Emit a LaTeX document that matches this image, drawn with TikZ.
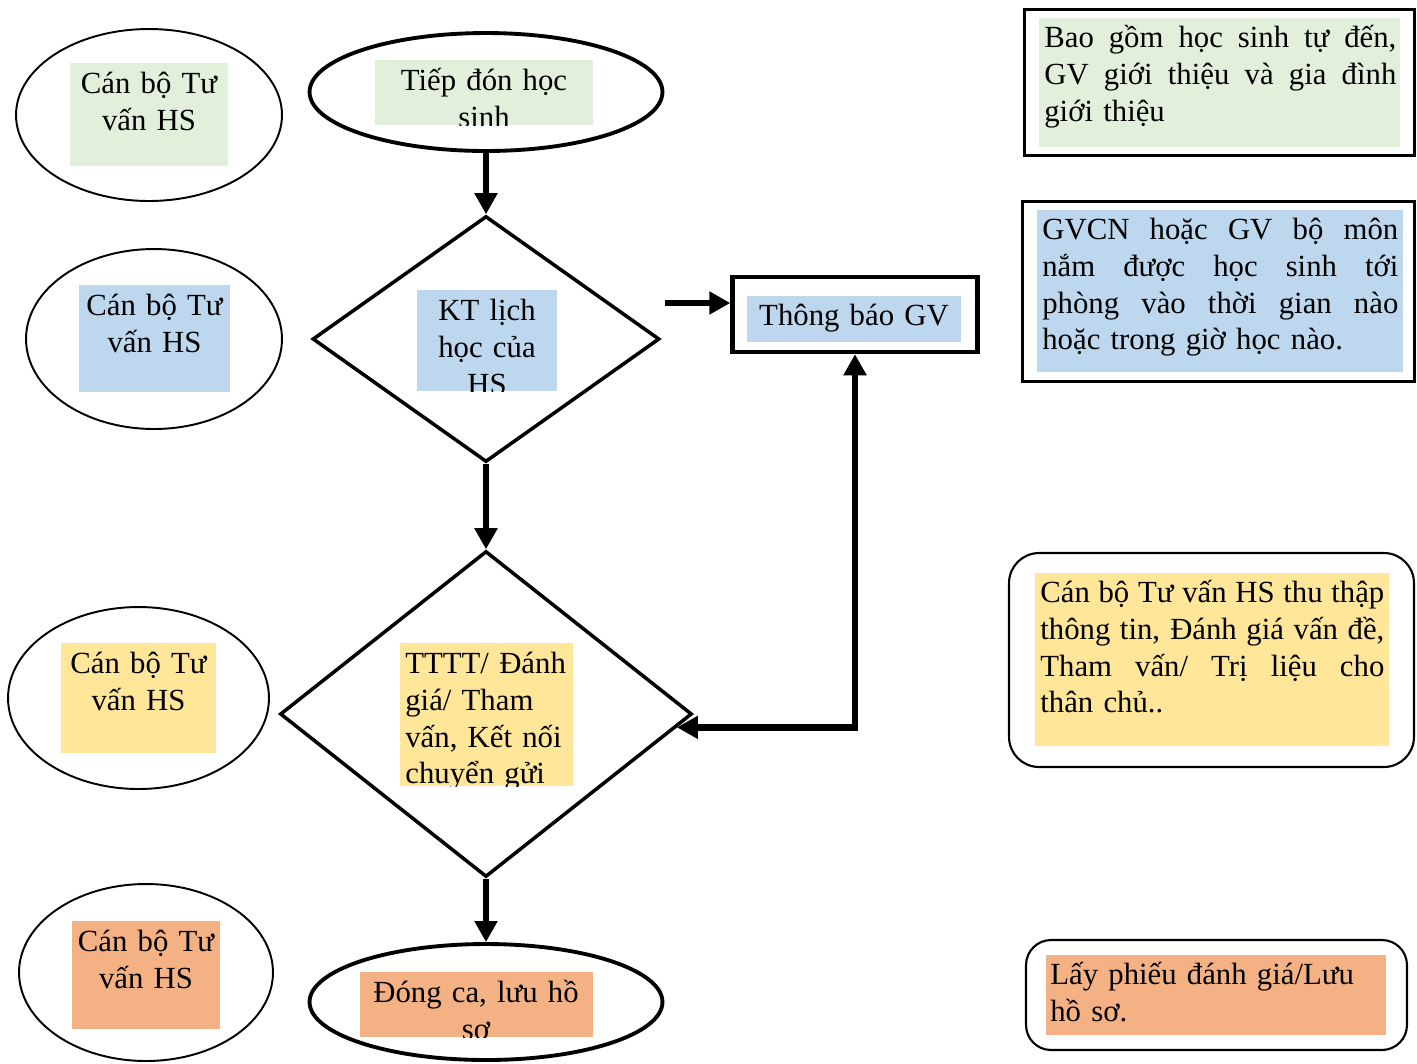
\documentclass[tikz,border=0pt]{standalone}
\usepackage{fontspec}
\setmainfont{Liberation Serif}
\usetikzlibrary{shapes.geometric,arrows.meta}

\definecolor{cgreen}{HTML}{E2EFDA}
\definecolor{cblue}{HTML}{BDD7EE}
\definecolor{cyellow}{HTML}{FFE699}
\definecolor{corange}{HTML}{F4B183}

% one drawing unit
\newlength\pxu
\setlength\pxu{0.02cm}

% a justified line of a given width (in drawing units)
\newcommand\jl[2]{{\spaceskip=0.25em plus 1fil minus 0.12em
  \leavevmode\hbox to #1\pxu{#2}}}

% shaded text frame whose text is cut off at the frame edge
% #1 name, #2 colour, #3-#6 corners, #7 node options, #8 text
\newcommand\tbox[8]{%
  \begin{scope}
    \clip (#3,#4) rectangle (#5,#6);
    \fill[#2] (#3,#4) rectangle (#5,#6);
    \node[lbl,#7] (#1) {\rule{0pt}{17pt}#8};
  \end{scope}}

\begin{document}
\begin{tikzpicture}[x=0.02cm,y=-0.02cm,
  lbl/.style={inner sep=0pt,font={\fontsize{17.5}{21}\selectfont\lineskiplimit=-100pt}},
  cen/.style={anchor=north,text width=6cm,align=center},
  lft/.style={anchor=north west,text width=9cm,align=left},
  role/.style={ellipse,draw,fill=white,line width=1.1pt,inner sep=0pt},
  term/.style={ellipse,draw,fill=white,line width=2.2pt,inner sep=0pt},
  choice/.style={diamond,draw,fill=white,line width=2pt,inner sep=0pt},
  note/.style={draw,fill=white,line width=1.6pt,inner sep=0pt},
  rnote/.style={draw,fill=white,line width=1.2pt,inner sep=0pt},
  tip/.tip={Triangle[length=12pt,width=12.5pt]},
  flow/.style={line width=3.8pt,-tip},
  both/.style={line width=3.8pt,tip-tip}]

\useasboundingbox (0,0) rectangle (1417,1063);
\fill[white] (0,0) rectangle (1417,1063);

% staff ellipses on the left
\node[role,minimum width=5.32cm,minimum height=3.44cm] (e1) at (149,115) {};
\node[role,minimum width=5.12cm,minimum height=3.6cm] (e2) at (154,339) {};
\node[role,minimum width=5.22cm,minimum height=3.64cm] (e3) at (138.5,698) {};
\node[role,minimum width=5.08cm,minimum height=3.54cm] (e4) at (146,972.5) {};

% main flow
\node[term,minimum width=7.06cm,minimum height=2.36cm] (start) at (486,92) {};
\node[choice,minimum width=6.94cm,minimum height=4.92cm] (d1) at (486,339) {};
\node[choice,minimum width=8.24cm,minimum height=6.52cm] (d2) at (486,714) {};
\node[term,minimum width=7.06cm,minimum height=2.32cm] (stop) at (486,1002) {};
\node[note,line width=2.5pt,minimum width=4.9cm,minimum height=1.5cm] (gv) at (855,314.5) {};

% notes on the right
\node[note,minimum width=7.8cm,minimum height=2.92cm] (r1) at (1219.5,82.5) {};
\node[note,minimum width=7.84cm,minimum height=3.6cm] (r2) at (1218.5,291.5) {};
\node[rnote,rounded corners=0.6cm,minimum width=8.1cm,minimum height=4.28cm] (r3) at (1211.5,660) {};
\node[rnote,rounded corners=0.5cm,minimum width=7.62cm,minimum height=2.2cm] (r4) at (1216.5,995) {};

% labels
\tbox{t1}{cgreen}{70}{63}{228}{166}{cen,at={(149,63)}}{Cán bộ Tư\\vấn HS}
\tbox{t2}{cblue}{79}{285}{230}{392}{cen,at={(154.5,285)}}{Cán bộ Tư\\vấn HS}
\tbox{t3}{cyellow}{61}{643}{216}{753}{cen,at={(138.5,643)}}{Cán bộ Tư\\vấn HS}
\tbox{t4}{corange}{72}{921}{220}{1029}{cen,at={(146,921)}}{Cán bộ Tư\\vấn HS}

\tbox{s0}{cgreen}{375}{60}{593}{125}{cen,at={(484,60)}}{Tiếp đón học\\sinh}
\tbox{s1}{cblue}{417}{290}{557}{391}{cen,at={(487,290)}}{KT lịch\\học của\\HS}
\tbox{s2}{cyellow}{400}{643}{573}{786}{lft,at={(405,643)}}{TTTT/ Đánh\\giá/ Tham\\vấn, Kết nối\\chuyển gửi}
\tbox{s3}{corange}{360}{972}{593}{1037}{cen,at={(476,972)}}{Đóng ca, lưu hồ\\sơ}
\tbox{s4}{cblue}{747}{296}{961}{342}{cen,at={(854,295)}}{Thông báo GV}

\tbox{n1}{cgreen}{1039}{18}{1400}{147}{lft,at={(1044,17)}}{%
  \jl{352}{Bao gồm học sinh tự đến,}\\\jl{352}{GV giới thiệu và gia đình}\\giới thiệu}
\tbox{n2}{cblue}{1037}{210}{1403}{372}{lft,at={(1042,209)}}{%
  \jl{356}{GVCN hoặc GV bộ môn}\\\jl{356}{nắm được học sinh tới}\\%
  \jl{356}{phòng vào thời gian nào}\\hoặc trong giờ học nào.}
\tbox{n3}{cyellow}{1035}{573}{1389}{746}{lft,at={(1040,572)}}{%
  \jl{344}{Cán bộ Tư vấn HS thu thập}\\\jl{344}{thông tin, Đánh giá vấn đề,}\\%
  \jl{344}{Tham vấn/ Trị liệu cho}\\thân chủ..}
\tbox{n4}{corange}{1046}{955}{1386}{1035}{lft,at={(1050,954)}}{%
  Lấy phiếu đánh giá/Lưu\\hồ sơ.}

% connectors
\draw[flow] (start.south) -- (d1.north);
\draw[flow] (d1.south) -- (d2.north);
\draw[flow] (d2.south) -- (stop.north);
\coordinate (a0) at (665,303);
\draw[flow] (a0) -- (a0 -| gv.west);
\draw[both] (d2.-4.9) -| (gv.south);
\end{tikzpicture}
\end{document}
